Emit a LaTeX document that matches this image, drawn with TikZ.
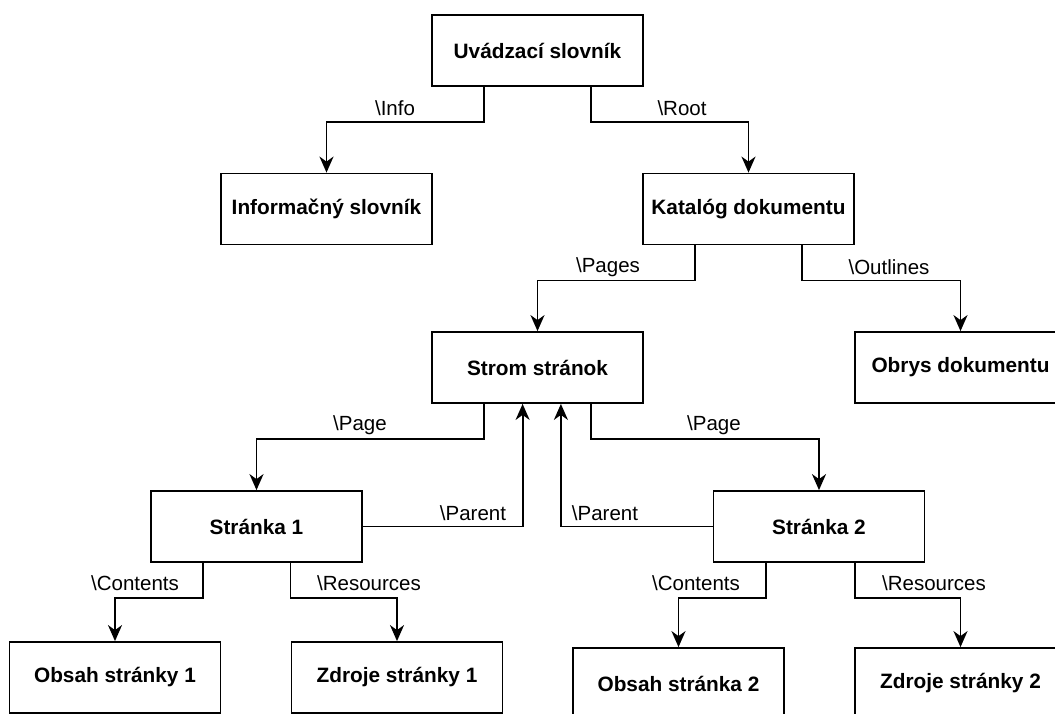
\documentclass[tikz,border=0pt]{standalone}
\usepackage{fontspec}
\setmainfont{Liberation Sans}
\usetikzlibrary{arrows.meta,calc}
\tikzset{
  box/.style={draw=black, line width=1.8pt, minimum width=211pt, minimum height=71pt, inner sep=0pt,
    font=\fontsize{20.8}{24}\selectfont\bfseries, fill=white},
  lbl/.style={font=\fontsize{20.5}{24}\selectfont, inner sep=0pt},
  arr/.style={line width=1.8pt, -{Stealth[length=16pt,width=14pt,inset=5pt]}},
}
\begin{document}
\begin{tikzpicture}[x=1pt,y=-1pt]
\clip (0,0) rectangle (1055,713);
\fill[white] (0,0) rectangle (1055,713);
\node[box] (U)  at (537.5,50.5)  {Uvádzací slovník};
\node[box] (I)  at (326.5,209)   {Informačný slovník};
\node[box] (K)  at (748.5,209)   {Katalóg dokumentu};
\node[box] (S)  at (537.5,367.5) {Strom stránok};
\node[box] (O)  at (960.5,367.5) {Obrys dokumentu};
\node[box] (P1) at (256.5,526.5) {Stránka 1};
\node[box] (P2) at (819,526.5)   {Stránka 2};
\node[box] (C1) at (115,677.5)   {Obsah stránky 1};
\node[box] (R1) at (397,677.5)   {Zdroje stránky 1};
\node[box] (C2) at (678.5,683.5) {Obsah stránka 2};
\node[box] (R2) at (960.5,683.5) {Zdroje stránky 2};

\draw[arr] ($(U.south west)!.25!(U.south east)$) -- ++(0,35) -| (I.north);
\draw[arr] ($(U.south west)!.75!(U.south east)$) -- ++(0,35) -| (K.north);
\draw[arr] ($(K.south west)!.25!(K.south east)$) -- ++(0,35) -| (S.north);
\draw[arr] ($(K.south west)!.75!(K.south east)$) -- ++(0,35) -| (O.north);
\draw[arr] ($(S.south west)!.25!(S.south east)$) -- ++(0,35) -| (P1.north);
\draw[arr] ($(S.south west)!.75!(S.south east)$) -- ++(0,35) -| (P2.north);
\draw[arr] (P1.east) -| ($(S.south west)!.43!(S.south east)$);
\draw[arr] (P2.west) -| ($(S.south west)!.61!(S.south east)$);
\draw[arr] ($(P1.south west)!.25!(P1.south east)$) -- ++(0,35) -| (C1.north);
\draw[arr] ($(P1.south west)!.66!(P1.south east)$) -- ++(0,35) -| (R1.north);
\draw[arr] ($(P2.south west)!.25!(P2.south east)$) -- ++(0,35) -| (C2.north);
\draw[arr] ($(P2.south west)!.67!(P2.south east)$) -- ++(0,35) -| (R2.north);

\node[lbl] (lInfo) at (395,108) {\textbackslash Info};
\node[lbl] (lRoot) at (682,108) {\textbackslash Root};
\node[lbl] (lPages) at (608,267) {\textbackslash Pages};
\node[lbl] (lOut) at (889,267) {\textbackslash Outlines};
\node[lbl] (lPg1) at (360,425) {\textbackslash Page};
\node[lbl] (lPg2) at (714,425) {\textbackslash Page};
\node[lbl] (lPar1) at (473,513) {\textbackslash Parent};
\node[lbl] (lPar2) at (605,513) {\textbackslash Parent};
\node[lbl] (lC1) at (135,583) {\textbackslash Contents};
\node[lbl] (lR1) at (369,583) {\textbackslash Resources};
\node[lbl] (lC2) at (696,583) {\textbackslash Contents};
\node[lbl] (lR2) at (934,583) {\textbackslash Resources};
\end{tikzpicture}
\end{document}
